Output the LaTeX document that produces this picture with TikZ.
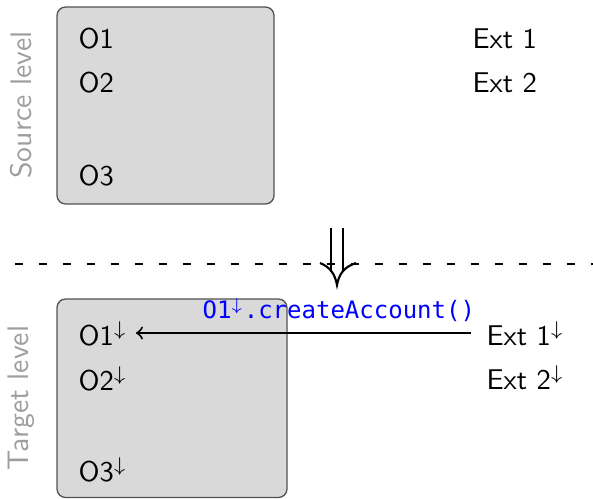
\documentclass[tikz,border=0pt]{standalone}
\usepackage{fontspec}
\newfontfamily\codefont{DejaVu Sans Mono}
\begin{document}
\begin{tikzpicture}[x=0.35pt, y=-0.35pt,
  levelbox/.style={draw=black!68, fill=black!15, line width=0.45pt, rounded corners=3pt},
  item/.style={anchor=base west, inner sep=0pt, font=\sffamily},
  levellabel/.style={rotate=90, text=black!38, inner sep=0pt, font=\sffamily\fontsize{10.4}{12}\selectfont},
  call/.style={anchor=base west, inner sep=0pt, text=blue, font=\codefont\fontsize{8.4}{10}\selectfont},
  msg/.style={line width=0.7pt, -to},
  transform/.style={line width=0.75pt}]
  \useasboundingbox (0,0) rectangle (593,499);

  % source level
  \draw[levelbox] (57,7) rectangle (274,204);
  \node[levellabel] (srclbl) at (21,105) {Source level};
  \node[item] (s1) at (78,49) {O1};
  \node[item] (s2) at (78,93) {O2};
  \node[item] (s3) at (78,186) {O3};
  \node[item] (e1) at (472,49) {Ext 1};
  \node[item] (e2) at (472,93) {Ext 2};

  % separator between the levels
  \draw[line width=0.75pt, dash pattern=on 2.8pt off 5.6pt] (15,264) -- (593,264);

  % refinement arrow
  \coordinate (ta) at (331,228);
  \coordinate (tb) at (343,228);
  \coordinate (tip) at (337,285);
  \draw[transform] (ta) -- (331,272);
  \draw[transform] (tb) -- (343,272);
  \draw[transform] (320,263) .. controls (330,267) and (335,274) .. (tip)
                   .. controls (339,274) and (344,267) .. (356,263);

  % target level
  \draw[levelbox] (57,299) rectangle (287,497.5);
  \node[levellabel] (tgtlbl) at (21,398) {Target level};
  \node[item] (t1) at (78,346) {O1$^{\downarrow}$};
  \node[item] (t2) at (78,391) {O2$^{\downarrow}$};
  \node[item] (t3) at (78,482) {O3$^{\downarrow}$};
  \node[item] (x1) at (486,346) {Ext 1$^{\downarrow}$};
  \node[item] (x2) at (486,390) {Ext 2$^{\downarrow}$};

  % call from the external actor
  \coordinate (src) at (471,333);
  \coordinate (dst) at (136,333);
  \draw[msg] (src) -- (dst);
  \node[call] (lbl) at (202,319) {O1$^{\downarrow}$.createAccount()};
\end{tikzpicture}
\end{document}
